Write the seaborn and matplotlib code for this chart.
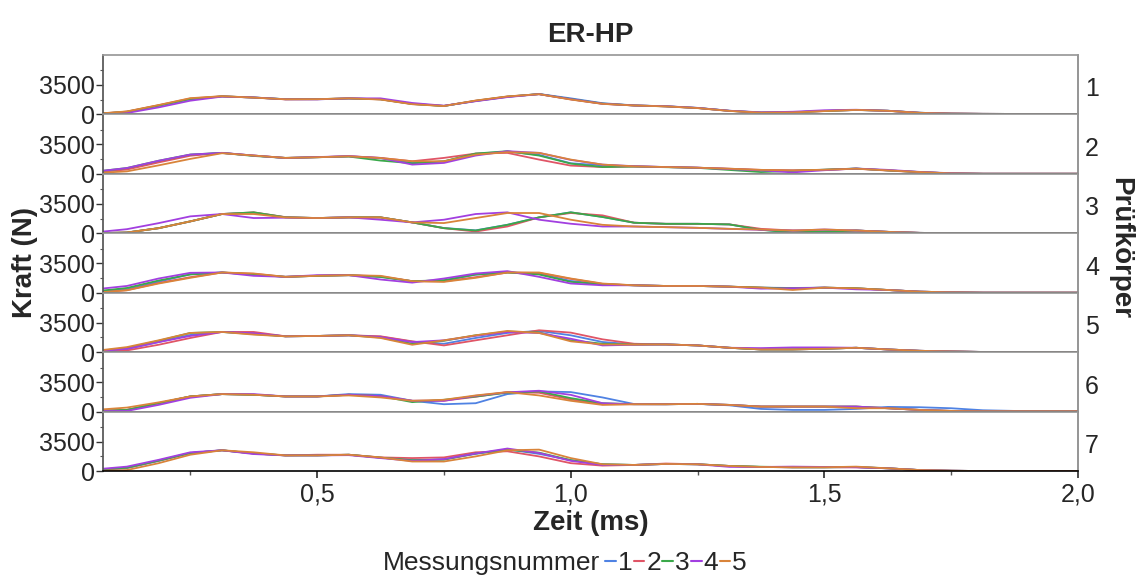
import numpy as np
import pandas as pd
import matplotlib.pyplot as plt
import seaborn as sns
from matplotlib.lines import Line2D
from matplotlib.ticker import FuncFormatter

# Zeitachse (ms), Abtastung alle 0,0625 ms
zeit = [0.0625, 0.125, 0.1875, 0.25, 0.3125, 0.375, 0.4375, 0.5, 0.5625, 0.625, 0.6875, 0.75,
        0.8125, 0.875, 0.9375, 1.0, 1.0625, 1.125, 1.1875, 1.25, 1.3125, 1.375, 1.4375, 1.5,
        1.5625, 1.625, 1.6875, 1.75, 1.8125, 1.875, 1.9375, 2.0]

messungen = ["1", "2", "3", "4", "5"]
farben = ["#4f82e3", "#e05566", "#3aa84a", "#a23fe0", "#d9843a"]

# Prüfkörper 1
pk1_m1 = [30, 280, 1000, 1780, 2130, 2000, 1800, 1790, 1880, 1800, 1250, 1000, 1580, 2080, 2420, 1900, 1320, 1060, 950, 760, 420, 210, 240, 390, 510, 420, 180, 80, 50, 40, 40, 40]
pk1_m2 = [40, 320, 1080, 1880, 2150, 1990, 1780, 1800, 1900, 1780, 1220, 1000, 1620, 2120, 2400, 1780, 1250, 1050, 940, 740, 400, 190, 230, 380, 520, 410, 170, 80, 50, 40, 40, 40]
pk1_m3 = [30, 300, 1040, 1820, 2140, 2000, 1800, 1810, 1890, 1790, 1230, 990, 1600, 2100, 2410, 1820, 1280, 1050, 950, 750, 410, 200, 240, 400, 520, 420, 180, 80, 50, 40, 40, 40]
pk1_m4 = [10, 150, 820, 1620, 2110, 2010, 1790, 1780, 1900, 1900, 1350, 1020, 1560, 2050, 2400, 1800, 1260, 1050, 960, 760, 420, 230, 300, 480, 540, 420, 180, 80, 50, 40, 40, 40]
pk1_m5 = [50, 340, 1100, 1920, 2160, 1990, 1790, 1800, 1900, 1760, 1200, 980, 1640, 2130, 2400, 1760, 1240, 1050, 940, 740, 400, 190, 220, 380, 520, 410, 170, 80, 50, 40, 40, 40]

# Prüfkörper 2
pk2_m1 = [200, 600, 1450, 2250, 2480, 2170, 1880, 1970, 2080, 1850, 1290, 1450, 2380, 2650, 2250, 1250, 1000, 880, 800, 720, 580, 420, 380, 480, 620, 400, 200, 40, 0, 0, 0, 0]
pk2_m2 = [180, 500, 1350, 2150, 2490, 2170, 1890, 1970, 2090, 1890, 1490, 1890, 2410, 2490, 1690, 970, 800, 860, 800, 720, 600, 460, 400, 460, 600, 380, 180, 40, 0, 0, 0, 0]
pk2_m3 = [250, 680, 1550, 2290, 2490, 2120, 1890, 1970, 2050, 1570, 1250, 1490, 2410, 2690, 2170, 1210, 800, 860, 780, 700, 450, 200, 330, 480, 620, 400, 200, 40, 0, 0, 0, 0]
pk2_m4 = [250, 680, 1550, 2290, 2490, 2170, 1880, 1990, 2100, 1890, 1090, 1290, 2170, 2690, 2490, 1650, 1090, 900, 800, 720, 560, 400, 160, 420, 620, 460, 220, 60, 0, 0, 0, 0]
pk2_m5 = [80, 280, 1000, 1770, 2450, 2170, 1890, 1970, 2080, 1880, 1490, 1490, 2290, 2570, 2490, 1690, 1090, 880, 800, 720, 600, 460, 400, 480, 600, 400, 200, 40, 0, 0, 0, 0]

# Prüfkörper 3
pk3_m1 = [0, 80, 600, 1410, 2290, 2450, 1900, 1810, 1890, 1890, 1290, 620, 340, 1000, 1890, 2490, 1950, 1250, 1120, 1120, 1050, 420, 100, 200, 320, 160, 40, 0, 0, 0, 0, 0]
pk3_m2 = [0, 80, 600, 1410, 2290, 2490, 1920, 1810, 1890, 1890, 1290, 600, 200, 800, 1890, 2410, 2130, 1250, 1120, 1120, 1050, 520, 320, 200, 320, 160, 40, 0, 0, 0, 0, 0]
pk3_m3 = [0, 80, 600, 1410, 2290, 2490, 1900, 1810, 1890, 1890, 1290, 600, 320, 1000, 1890, 2490, 1930, 1250, 1120, 1120, 1050, 400, 80, 200, 320, 160, 40, 0, 0, 0, 0, 0]
pk3_m4 = [100, 480, 1200, 2010, 2290, 1810, 1850, 1810, 1890, 1610, 1290, 1610, 2290, 2490, 1610, 1130, 800, 800, 720, 640, 520, 400, 320, 440, 320, 160, 40, 0, 0, 0, 0, 0]
pk3_m5 = [0, 80, 600, 1410, 2290, 2290, 1880, 1810, 1890, 1890, 1290, 1210, 1810, 2410, 2410, 1610, 1000, 800, 720, 640, 520, 440, 320, 440, 320, 160, 40, 0, 0, 0, 0, 0]

# Prüfkörper 4
pk4_m1 = [100, 400, 1300, 2200, 2410, 2150, 1890, 2010, 2090, 1900, 1370, 1450, 2150, 2450, 2250, 1400, 1000, 880, 800, 800, 720, 600, 560, 600, 520, 320, 120, 40, 0, 0, 0, 0]
pk4_m2 = [0, 300, 1150, 1850, 2410, 2250, 1890, 2010, 2090, 1950, 1370, 1350, 1850, 2400, 2350, 1650, 1050, 880, 800, 800, 720, 600, 500, 600, 520, 320, 120, 40, 0, 0, 0, 0]
pk4_m3 = [160, 560, 1450, 2170, 2410, 2170, 1890, 2010, 2090, 1870, 1370, 1490, 2170, 2410, 2170, 1290, 1000, 880, 800, 800, 720, 600, 520, 600, 520, 320, 120, 40, 0, 0, 0, 0]
pk4_m4 = [400, 800, 1690, 2370, 2410, 2010, 1890, 2090, 2090, 1570, 1200, 1690, 2290, 2570, 1890, 1090, 880, 880, 800, 800, 720, 480, 520, 600, 400, 320, 120, 40, 0, 0, 0, 0]
pk4_m5 = [0, 280, 1090, 1770, 2410, 2290, 1890, 2010, 2090, 2010, 1370, 1290, 1770, 2410, 2410, 1690, 1090, 880, 800, 800, 720, 600, 320, 600, 520, 320, 120, 40, 0, 0, 0, 0]

# Prüfkörper 5
pk5_m1 = [60, 350, 1200, 2050, 2410, 2250, 1890, 1930, 2010, 1850, 1250, 1000, 1690, 2290, 2530, 2010, 1210, 920, 920, 800, 520, 320, 320, 400, 520, 320, 160, 80, 20, 20, 20, 20]
pk5_m2 = [0, 200, 880, 1690, 2410, 2410, 1890, 1930, 2010, 1890, 1290, 800, 1410, 2010, 2610, 2330, 1530, 1000, 920, 800, 520, 320, 320, 400, 520, 320, 160, 80, 20, 20, 20, 20]
pk5_m3 = [100, 500, 1350, 2290, 2410, 2150, 1890, 1930, 2010, 1750, 1000, 1350, 2010, 2450, 2350, 1410, 1000, 900, 920, 800, 520, 320, 320, 400, 520, 320, 160, 80, 20, 20, 20, 20]
pk5_m4 = [80, 400, 1200, 1930, 2410, 2250, 1890, 1930, 2010, 1800, 1200, 1410, 1950, 2400, 2290, 1600, 800, 880, 920, 800, 520, 480, 560, 560, 520, 320, 160, 80, 20, 20, 20, 20]
pk5_m5 = [150, 600, 1410, 2290, 2410, 2090, 1890, 1930, 2010, 1690, 880, 1410, 2010, 2530, 2290, 1290, 920, 900, 920, 800, 520, 320, 320, 400, 520, 320, 160, 80, 20, 20, 20, 20]

# Prüfkörper 6
pk6_m1 = [80, 200, 1000, 1810, 2090, 2010, 1810, 1810, 2090, 2010, 1290, 880, 1000, 2090, 2410, 2330, 1690, 900, 880, 920, 750, 320, 200, 200, 320, 560, 520, 400, 160, 80, 80, 80]
pk6_m2 = [80, 200, 1000, 1810, 2090, 2010, 1810, 1810, 2010, 1850, 1290, 1300, 1770, 2330, 2250, 1450, 880, 880, 880, 920, 800, 600, 600, 600, 600, 400, 200, 80, 40, 40, 40, 40]
pk6_m3 = [80, 200, 1000, 1810, 2090, 2010, 1810, 1810, 2010, 1850, 1130, 1410, 1800, 2250, 2410, 1610, 1000, 880, 880, 920, 800, 600, 600, 600, 600, 400, 200, 80, 80, 80, 80, 80]
pk6_m4 = [60, 80, 800, 1650, 2090, 2090, 1810, 1810, 2010, 1850, 1290, 1290, 1890, 2300, 2490, 2000, 1000, 880, 880, 920, 800, 600, 600, 600, 600, 400, 200, 80, 40, 40, 40, 40]
pk6_m5 = [200, 480, 1100, 1810, 2090, 2010, 1810, 1810, 1930, 1690, 1290, 1410, 1930, 2330, 1930, 1290, 800, 880, 880, 920, 800, 600, 600, 600, 400, 400, 200, 80, 40, 40, 40, 40]

# Prüfkörper 7
pk7_m1 = [100, 350, 1200, 2150, 2480, 2100, 1870, 1870, 1950, 1600, 1300, 1420, 2050, 2600, 2050, 1300, 810, 730, 850, 810, 610, 490, 450, 450, 480, 330, 120, 40, 0, 0, 0, 0]
pk7_m2 = [100, 400, 1250, 2150, 2480, 2100, 1870, 1950, 1950, 1630, 1550, 1630, 2240, 2360, 1750, 940, 650, 730, 900, 810, 610, 490, 450, 450, 450, 330, 120, 40, 0, 0, 0, 0]
pk7_m3 = [150, 400, 1250, 2150, 2480, 2100, 1870, 1870, 1950, 1600, 1300, 1350, 2100, 2550, 2200, 1300, 810, 730, 850, 810, 610, 520, 450, 450, 480, 330, 120, 40, 0, 0, 0, 0]
pk7_m4 = [200, 530, 1340, 2240, 2480, 2030, 1870, 1870, 1900, 1550, 1220, 1420, 2100, 2690, 2160, 1220, 730, 730, 850, 810, 500, 490, 530, 490, 450, 330, 120, 40, 0, 0, 0, 0]
pk7_m5 = [0, 120, 940, 1950, 2480, 2240, 1870, 1870, 1950, 1630, 1140, 1140, 1750, 2480, 2560, 1550, 810, 730, 850, 810, 610, 490, 450, 450, 530, 330, 120, 40, 0, 0, 0, 0]

pruefkoerper = {
    "1": [pk1_m1, pk1_m2, pk1_m3, pk1_m4, pk1_m5],
    "2": [pk2_m1, pk2_m2, pk2_m3, pk2_m4, pk2_m5],
    "3": [pk3_m1, pk3_m2, pk3_m3, pk3_m4, pk3_m5],
    "4": [pk4_m1, pk4_m2, pk4_m3, pk4_m4, pk4_m5],
    "5": [pk5_m1, pk5_m2, pk5_m3, pk5_m4, pk5_m5],
    "6": [pk6_m1, pk6_m2, pk6_m3, pk6_m4, pk6_m5],
    "7": [pk7_m1, pk7_m2, pk7_m3, pk7_m4, pk7_m5],
}

# Langes DataFrame aufbauen
rows = []
for pk, serien in pruefkoerper.items():
    for m, werte in zip(messungen, serien):
        for t, f in zip(zeit, werte):
            rows.append({"Prüfkörper": pk, "Messungsnummer": m, "Zeit": t, "Kraft": f})
df = pd.DataFrame(rows)

sns.set_theme(style="white")
plt.rcParams["font.family"] = ["Liberation Sans", "DejaVu Sans"]

palette = dict(zip(messungen, farben))
tick_fs = 18
label_fs = 20

fig, axes = plt.subplots(7, 1, sharex=True, figsize=(11.36, 5.83), dpi=100)
fig.subplots_adjust(left=0.0907, right=0.949, top=0.906, bottom=0.192, hspace=0)

for ax, pk in zip(axes, pruefkoerper.keys()):
    sub = df[df["Prüfkörper"] == pk]
    sns.lineplot(data=sub, x="Zeit", y="Kraft", hue="Messungsnummer", palette=palette,
                 ax=ax, legend=False, linewidth=1.3, errorbar=None)
    ax.set_ylim(0, 7100)
    ax.set_yticks([0, 3500])
    ax.set_yticks([1750, 5250], minor=True)
    ax.set_xlim(0.078, 2.0)
    ax.set_xlabel("")
    ax.set_ylabel("")
    ax.tick_params(axis="y", which="major", left=True, length=5, width=1, labelsize=tick_fs, pad=1, color="#333333")
    ax.tick_params(axis="y", which="minor", left=True, length=2.5, width=0.8, color="#555555")
    for side in ["left", "right", "top", "bottom"]:
        ax.spines[side].set_visible(True)
    ax.spines["bottom"].set_color("black")
    ax.spines["bottom"].set_linewidth(1.2)
    ax.spines["top"].set_color("#999999")
    ax.spines["right"].set_color("#888888")
    ax.spines["left"].set_color("#555555")
    ax.text(1.007, 0.42, pk, transform=ax.transAxes, ha="left", va="center", fontsize=tick_fs)

bottom_ax = axes[-1]
bottom_ax.set_xticks([0.5, 1.0, 1.5, 2.0])
bottom_ax.set_xticks([0.25, 0.75, 1.25, 1.75], minor=True)
bottom_ax.xaxis.set_major_formatter(FuncFormatter(lambda v, p: f"{v:.1f}".replace(".", ",")))
bottom_ax.tick_params(axis="x", which="major", bottom=True, length=5, labelsize=tick_fs, pad=3, color="#333333")
bottom_ax.tick_params(axis="x", which="minor", bottom=True, length=3, color="#555555")
bottom_ax.set_xlabel("Zeit (ms)", fontsize=label_fs, fontweight="bold", labelpad=3)

fig.text(0.52, 1 - 35 / 583, "ER-HP", ha="center", va="center", fontsize=label_fs, fontweight="bold")
fig.text(0.022, 0.55, "Kraft (N)", rotation=90, ha="center", va="center", fontsize=label_fs, fontweight="bold")
fig.text(0.986, 0.575, "Prüfkörper", rotation=-90, ha="center", va="center", fontsize=label_fs, fontweight="bold")

# Legende: Titel links, Einträge rechts daneben
legend_y = 1 - 563 / 583
fig.text(600 / 1136, legend_y, "Messungsnummer", ha="right", va="center", fontsize=label_fs - 1)
handles = [Line2D([0], [0], color=c, lw=1.5) for c in farben]
fig.legend(handles, messungen, loc="center left", bbox_to_anchor=(605 / 1136, legend_y),
           ncol=5, frameon=False, fontsize=label_fs - 1, handlelength=0.4, handletextpad=0.08,
           columnspacing=0.05, borderpad=0, borderaxespad=0)

plt.savefig("out.png", dpi=100)
plt.close()
